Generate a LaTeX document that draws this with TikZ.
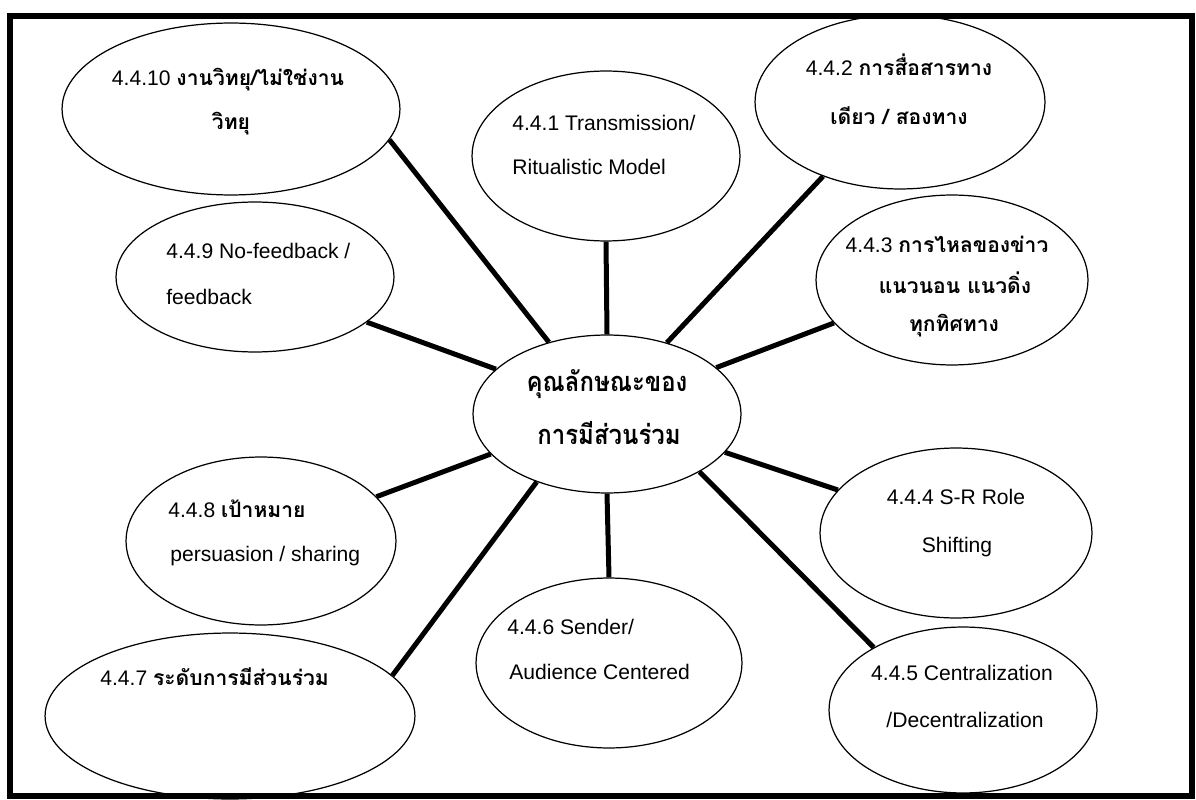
\documentclass[tikz,border=0pt]{standalone}
\usepackage{fontspec}
\setmainfont{Liberation Sans}
\newfontfamily\thaifont[Script=Thai]{Loma}
\newfontfamily\thaicenter[Script=Thai,FakeStretch=0.88]{Loma}
\newcommand{\thx}[1]{{\thaifont\bfseries #1}}
\usetikzlibrary{shapes.geometric}
\tikzset{
  ell/.style 2 args={ellipse, draw, line width=0.7pt, inner sep=0pt,
    minimum width={#1*0.04cm}, minimum height={#2*0.04cm}},
  lbl/.style={inner sep=0pt, text height=9pt, text depth=0pt,
    font=\fontsize{12}{14}\selectfont},
  clbl/.style={inner sep=0pt, text height=11pt, text depth=0pt,
    font=\fontsize{15.5}{19}\selectfont\thaicenter\bfseries},
  conn/.style={line width=0.1cm},
  frame/.style={line width=0.12cm}
}
\begin{document}
\begin{tikzpicture}[x=0.02cm,y=-0.02cm]
\useasboundingbox (0,0) rectangle (1196,800);
\draw[frame] (10,16) rectangle (1192,796);
% ellipses
\node[ell={169}{86}] (e10) at (231,109) {};
\node[ell={139}{75}] (e9) at (255,277) {};
\node[ell={134}{85}] (e1) at (606,156) {};
\node[ell={145}{87}] (e2) at (900,102) {};
\node[ell={136}{85}] (e3) at (952,280) {};
\node[ell={134}{79}] (c) at (607,414) {};
\node[ell={135}{84}] (e8) at (261,541) {};
\node[ell={185}{83}] (e7) at (230,716) {};
\node[ell={133}{85}] (e6) at (609,663) {};
\node[ell={136}{85}] (e4) at (956,533) {};
\node[ell={134}{83}] (e5) at (963,710) {};
% labels
\node[lbl] (t10a) at (228,78) {4.4.10 \thx{งานวิทยุ/ไม่ใช่งาน}};
\node[lbl] (t10b) at (231,122) {\thx{วิทยุ}};
\node[lbl,anchor=west] (t9a) at (166,251) {4.4.9 No-feedback /};
\node[lbl,anchor=west] (t9b) at (166,297) {feedback};
\node[lbl,anchor=west] (t1a) at (512,123) {4.4.1 Transmission/};
\node[lbl,anchor=west] (t1b) at (512,167) {Ritualistic Model};
\node[lbl] (t2a) at (899,68) {4.4.2 \thx{การสื่อสารทาง}};
\node[lbl] (t2b) at (899,117) {\thx{เดียว / สองทาง}};
\node[lbl] (t3a) at (947,245) {4.4.3 \thx{การไหลของข่าว}};
\node[lbl] (t3b) at (955,286) {\thx{แนวนอน แนวดิ่ง}};
\node[lbl] (t3c) at (954,324) {\thx{ทุกทิศทาง}};
\node[clbl] (tca) at (607,382) {คุณลักษณะของ};
\node[clbl] (tcb) at (609,435) {การมีส่วนร่วม};
\node[lbl,anchor=west] (t8a) at (168,510) {4.4.8 \thx{เป้าหมาย}};
\node[lbl,anchor=west] (t8b) at (170,554) {persuasion / sharing};
\node[lbl,anchor=west] (t7) at (100,678) {4.4.7 \thx{ระดับการมีส่วนร่วม}};
\node[lbl,anchor=west] (t6a) at (507,627) {4.4.6 Sender/};
\node[lbl,anchor=west] (t6b) at (509,672) {Audience Centered};
\node[lbl] (t4a) at (956,497) {4.4.4 S-R Role};
\node[lbl] (t4b) at (957,545) {Shifting};
\node[lbl] (t5a) at (962,673) {4.4.5 Centralization};
\node[lbl] (t5b) at (965,720) {/Decentralization};
% connectors
\draw[conn] (e10.-11.2) -- (c.129.7);
\draw[conn] (e9.-22.7) -- (c.158.1);
\draw[conn] (e1.south) -- (c.north);
\draw[conn] (e2.224.3) -- (c.50.4);
\draw[conn] (e3.200.2) -- (c.23.1);
\draw[conn] (e4.160.1) -- (c.-18.7);
\draw[conn] (e5.145.3) -- (c.-32.8);
\draw[conn] (c.south) -- (e6.north);
\draw[conn] (e8.21.3) -- (c.199.9);
\draw[conn] (e7.14) -- (c.224.5);
\end{tikzpicture}
\end{document}
